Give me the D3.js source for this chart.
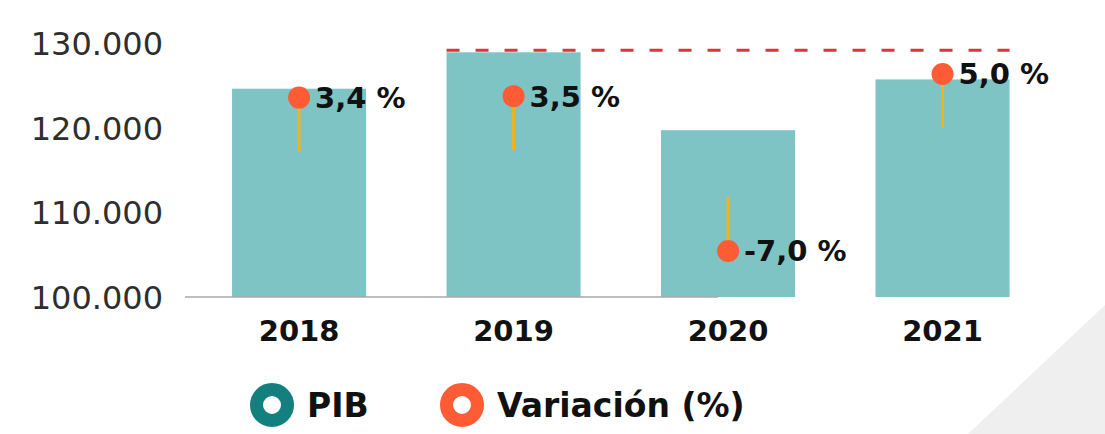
<!DOCTYPE html>
<html>
<head>
<meta charset="utf-8">
<script src="https://cdn.jsdelivr.net/npm/d3@7"></script>
<style>
  body { margin: 0; background: #fff; }
  svg { display: block; }
</style>
</head>
<body>
<div id="graf"></div>
<script>
// PIB y variación anual

// datos
years     = ['2018', '2019', '2020', '2021']
pib       = [124600, 128900, 119700, 125700]
variacion = [3.4, 3.5, -7.0, 5.0]
yTicks    = [100000, 110000, 120000, 130000]
series    = ['PIB', 'Variación (%)']

ancho_total = 1105
alto_total  = 434

// colores
colBar   = '#7ec4c5'
colPib   = '#13807f'
colVar   = '#ff5b35'
colStem  = '#f0b31c'
colDash  = '#e2323c'

// formato con punto de miles y coma decimal
loc = d3.formatLocale({ decimal: ',', thousands: '.', grouping: [3], currency: ['', ''], minus: '-' })
fmtMiles = loc.format(',d')
fmtPct   = loc.format('.1f')

svg = d3.select('#graf').append('svg')
        .attr('width', ancho_total)
        .attr('height', alto_total)

// triangulo gris decorativo de la esquina
svg.append('path')
  .attr('d', 'M1105,305 L1105,434 L968,434 Z')
  .attr('fill', '#efefef')

// Escaladores
x = d3.scaleBand().domain(years).range([151.6, 1090]).padding(0.375)
y = d3.scaleLinear().domain([100000, 130000]).range([297, 43])
// escala secundaria para los puntos de variacion
y2 = d3.scaleLinear().domain([-7, 5]).range([251, 74])

// eje y (solo etiquetas)
yAxis = d3.axisLeft(y)
          .tickValues(yTicks)
          .tickSize(0)
          .tickPadding(0)
          .tickFormat(d => fmtMiles(d))

yg = svg.append('g')
  .attr('transform', 'translate(163,0)')
  .call(yAxis)
yg.select('.domain').remove()
yg.selectAll('text')
  .attr('font-family', 'DejaVu Sans')
  .attr('font-size', '32px')
  .attr('fill', '#2e2e2e')
  .attr('dy', '0.36em')

// barras
svg.selectAll('rect.bar')
  .data(pib)
  .enter()
  .append('rect')
    .attr('class', 'bar')
    .attr('x', (d, i) => x(years[i]))
    .attr('y', d => y(d))
    .attr('width', x.bandwidth())
    .attr('height', d => y(100000) - y(d))
    .attr('fill', colBar)

// linea base gris
svg.append('line')
  .attr('x1', 185)
  .attr('x2', 718)
  .attr('y1', y(100000))
  .attr('y2', y(100000))
  .attr('stroke', '#a9a9a9')
  .attr('stroke-width', 1.6)

// linea punteada en el maximo
imax = pib.indexOf(d3.max(pib))
svg.append('line')
  .attr('x1', x(years[imax]))
  .attr('x2', x(years[years.length - 1]) + x.bandwidth())
  .attr('y1', y(pib[imax]) - 2)
  .attr('y2', y(pib[imax]) - 2)
  .attr('stroke', colDash)
  .attr('stroke-width', 3)
  .attr('stroke-dasharray', '13,16')

// etiquetas de años
svg.selectAll('text.year')
  .data(years)
  .enter()
  .append('text')
    .attr('class', 'year')
    .attr('x', d => x(d) + x.bandwidth() / 2)
    .attr('y', 341)
    .attr('text-anchor', 'middle')
    .attr('font-family', 'DejaVu Sans')
    .attr('font-weight', 'bold')
    .attr('font-size', '29px')
    .attr('fill', '#111')
    .text(d => d)

// palitos de la variacion
stemLen = 54
cx = i => x(years[i]) + x.bandwidth() / 2
svg.selectAll('line.stem')
  .data(variacion)
  .enter()
  .append('line')
    .attr('class', 'stem')
    .attr('x1', (d, i) => cx(i))
    .attr('x2', (d, i) => cx(i))
    .attr('y1', d => y2(d))
    .attr('y2', d => y2(d) + (d >= 0 ? stemLen : -stemLen))
    .attr('stroke', colStem)
    .attr('stroke-width', 3)

// puntos
svg.selectAll('circle.dot')
  .data(variacion)
  .enter()
  .append('circle')
    .attr('class', 'dot')
    .attr('cx', (d, i) => cx(i))
    .attr('cy', d => y2(d))
    .attr('r', 11)
    .attr('fill', colVar)

// etiquetas de porcentaje
svg.selectAll('text.pct')
  .data(variacion)
  .enter()
  .append('text')
    .attr('class', 'pct')
    .attr('x', (d, i) => cx(i) + 16)
    .attr('y', d => y2(d))
    .attr('dy', '0.36em')
    .attr('font-family', 'DejaVu Sans')
    .attr('font-weight', 'bold')
    .attr('font-size', '29px')
    .attr('fill', '#111')
    .text(d => fmtPct(d) + ' %')

// Leyenda
legX = [272, 462]
series.forEach((s, i) => {
  svg.append('circle')
    .attr('cx', legX[i])
    .attr('cy', 405)
    .attr('r', 15.5)
    .attr('fill', 'none')
    .attr('stroke', i == 0 ? colPib : colVar)
    .attr('stroke-width', 13)
  svg.append('text')
    .attr('x', legX[i] + 35)
    .attr('y', 405)
    .attr('dy', '0.36em')
    .attr('font-family', 'DejaVu Sans')
    .attr('font-weight', 'bold')
    .attr('font-size', '33px')
    .attr('fill', '#111')
    .text(s)
})
</script>
</body>
</html>
